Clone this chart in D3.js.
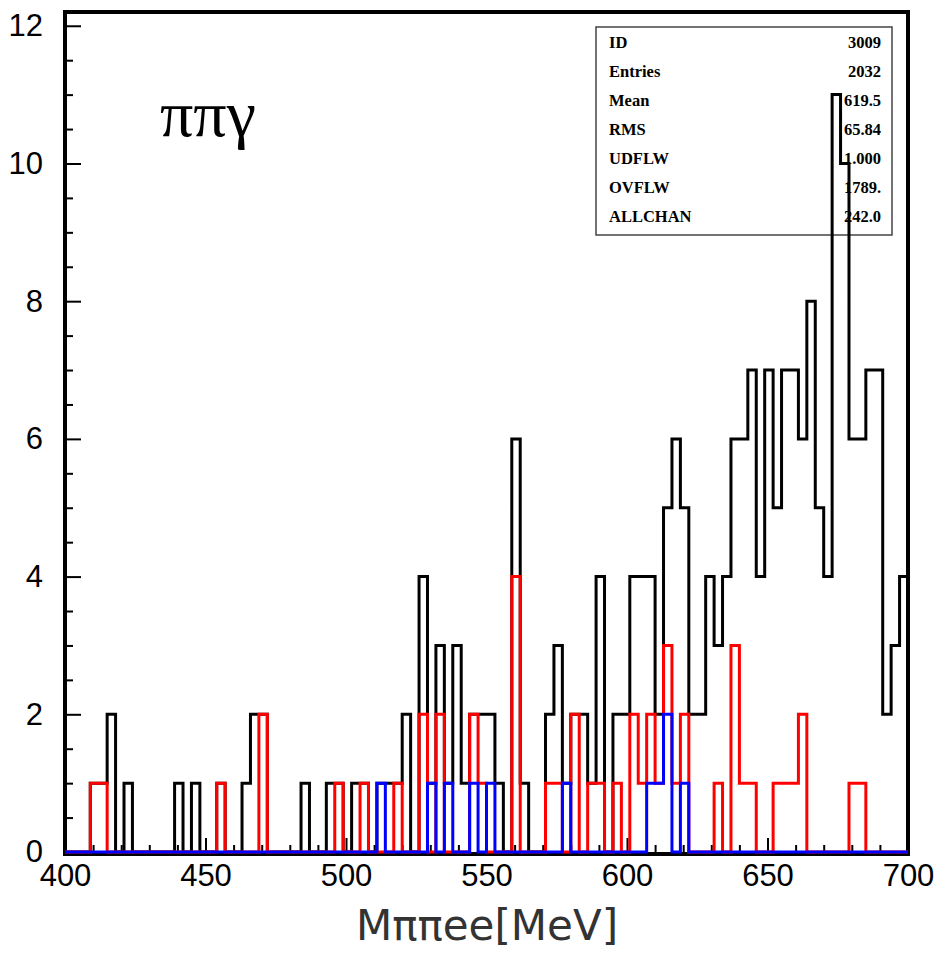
<html>

<head>
  <script src="https://d3js.org/d3.v7.min.js"></script>
  <style>
    body {
      margin: 0;
      background: white;
    }

    .tick text {
      font-family: "Liberation Sans", Arial, sans-serif;
      font-size: 31px;
      fill: black;
    }

    .axis .domain {
      stroke: none;
    }

    .axis line {
      stroke: black;
      stroke-width: 2px;
    }

    .stats text {
      font-family: "Liberation Serif", "DejaVu Serif", serif;
      font-weight: bold;
      font-size: 16.5px;
      fill: black;
    }
  </style>
</head>

<body>
  <svg id="hist" width="937" height="953"></svg>
  <script>
    // 100 bins of 3 MeV from 400 to 700
    const binStart = 400;
    const binWidth = 3;

    const allCounts = [
      0, 0, 0, 1, 1, 2, 0, 1, 0, 0,
      0, 0, 0, 1, 0, 1, 0, 0, 1, 0,
      0, 1, 2, 2, 0, 0, 0, 0, 1, 0,
      0, 1, 1, 0, 1, 1, 0, 1, 1, 1,
      2, 0, 4, 1, 3, 1, 3, 1, 2, 2,
      2, 1, 0, 6, 1, 0, 0, 2, 3, 1,
      2, 2, 1, 4, 0, 2, 2, 4, 4, 4,
      2, 5, 6, 5, 2, 2, 4, 3, 4, 6,
      6, 7, 4, 7, 5, 7, 7, 6, 8, 5,
      4, 11, 10, 6, 6, 7, 7, 2, 3, 4
    ];

    const redCounts = [
      0, 0, 0, 1, 1, 0, 0, 0, 0, 0,
      0, 0, 0, 0, 0, 0, 0, 0, 1, 0,
      0, 0, 0, 2, 0, 0, 0, 0, 0, 0,
      0, 0, 1, 0, 0, 1, 0, 0, 0, 1,
      0, 0, 2, 0, 2, 0, 0, 0, 2, 1,
      0, 0, 0, 4, 0, 0, 0, 1, 1, 0,
      2, 0, 1, 1, 0, 1, 0, 2, 1, 2,
      1, 3, 1, 2, 0, 0, 0, 1, 0, 3,
      1, 1, 0, 0, 1, 1, 1, 2, 0, 0,
      0, 0, 0, 1, 1, 0, 0, 0, 0, 0
    ];

    const blueCounts = [
      0, 0, 0, 0, 0, 0, 0, 0, 0, 0,
      0, 0, 0, 0, 0, 0, 0, 0, 0, 0,
      0, 0, 0, 0, 0, 0, 0, 0, 0, 0,
      0, 0, 0, 0, 0, 0, 0, 1, 0, 0,
      0, 0, 0, 1, 0, 1, 0, 0, 1, 0,
      1, 0, 0, 0, 0, 0, 0, 0, 0, 1,
      0, 0, 0, 0, 0, 0, 0, 0, 0, 1,
      1, 2, 0, 1, 0, 0, 0, 0, 0, 0,
      0, 0, 0, 0, 0, 0, 0, 0, 0, 0,
      0, 0, 0, 0, 0, 0, 0, 0, 0, 0
    ];

    const statLabels = ["ID", "Entries", "Mean", "RMS", "UDFLW", "OVFLW", "ALLCHAN"];
    const statValues = ["3009", "2032", "619.5", "65.84", "1.000", "1789.", "242.0"];

    const xMajor = [400, 450, 500, 550, 600, 650, 700];
    const yMajor = [0, 2, 4, 6, 8, 10, 12];

    const svg = d3.select("svg#hist");
    const margin = { top: 12, right: 29, bottom: 101, left: 65 };
    const width = svg.attr("width");
    const height = svg.attr("height");
    const chartWidth = width - margin.left - margin.right;
    const chartHeight = height - margin.top - margin.bottom;

    const xScale = d3.scaleLinear().domain([400, 700]).range([0, chartWidth]);
    const yScale = d3.scaleLinear().domain([0, 12.2]).range([chartHeight, 0]);

    const chartArea = svg.append("g")
      .attr("transform", `translate(${margin.left},${margin.top})`);

    // frame
    chartArea.append("rect")
      .attr("x", 0)
      .attr("y", 0)
      .attr("width", chartWidth)
      .attr("height", chartHeight + 2)
      .attr("fill", "none")
      .attr("stroke", "black")
      .attr("stroke-width", 4);

    // y ticks point into the plot
    chartArea.append("g")
      .attr("class", "y axis")
      .call(d3.axisLeft(yScale).tickValues(yMajor).tickSize(-16).tickPadding(22));

    chartArea.append("g")
      .attr("class", "y axis")
      .call(d3.axisLeft(yScale).tickValues(d3.range(0.5, 12, 0.5).filter(v => v % 2 !== 0))
        .tickSize(-8).tickFormat(""));

    chartArea.append("g")
      .attr("class", "x axis")
      .attr("transform", `translate(0,${chartHeight})`)
      .call(d3.axisBottom(xScale).tickValues(xMajor).tickSize(-14).tickPadding(12));

    chartArea.append("g")
      .attr("class", "x axis")
      .attr("transform", `translate(0,${chartHeight})`)
      .call(d3.axisBottom(xScale).tickValues(d3.range(410, 700, 10).filter(v => v % 50 !== 0))
        .tickSize(-7).tickFormat(""));

    // statistics box
    const stats = chartArea.append("g").attr("class", "stats");
    stats.append("rect")
      .attr("x", 531)
      .attr("y", 15)
      .attr("width", 296)
      .attr("height", 208)
      .attr("fill", "white")
      .attr("stroke", "#444")
      .attr("stroke-width", 1.5);

    stats.selectAll("text.label").data(statLabels)
      .join("text").attr("class", "label")
      .attr("x", 544)
      .attr("y", (d, i) => 36 + i * 29)
      .text(d => d);

    stats.selectAll("text.value").data(statValues)
      .join("text").attr("class", "value")
      .attr("x", 816)
      .attr("y", (d, i) => 36 + i * 29)
      .attr("text-anchor", "end")
      .text(d => d);

    // step outline of a histogram
    function stepPoints(counts) {
      const pts = counts.map((c, i) => [binStart + i * binWidth, c]);
      pts.push([binStart + counts.length * binWidth, counts[counts.length - 1]]);
      return pts;
    }

    const stepLine = d3.line()
      .x(d => xScale(d[0]))
      .y(d => yScale(d[1]))
      .curve(d3.curveStepAfter);

    const series = [
      { name: "all", counts: allCounts, color: "black" },
      { name: "red", counts: redCounts, color: "#ff0000" },
      { name: "blue", counts: blueCounts, color: "#0000ff" }
    ];

    chartArea.selectAll("path.hist").data(series)
      .join("path").attr("class", "hist")
      .attr("d", d => stepLine(stepPoints(d.counts)))
      .attr("fill", "none")
      .attr("stroke", d => d.color)
      .attr("stroke-width", 3);

    svg.append("text")
      .attr("x", 160)
      .attr("y", 136)
      .style("font-family", "'Liberation Serif', 'Times New Roman', serif")
      .style("font-size", "66px")
      .text("ππγ");

    svg.append("text")
      .attr("x", 487)
      .attr("y", 940)
      .attr("text-anchor", "middle")
      .style("font-family", "'DejaVu Sans', Verdana, sans-serif")
      .style("font-size", "42px")
      .style("fill", "#333")
      .text("Mππee[MeV]");
  </script>
</body>

</html>
